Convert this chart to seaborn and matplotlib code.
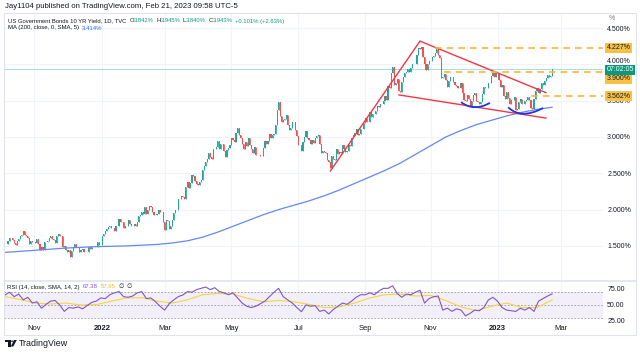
import numpy as np
import pandas as pd
import matplotlib
matplotlib.use("Agg")
import matplotlib.pyplot as plt
import seaborn as sns
from matplotlib.patches import Rectangle, Polygon, Circle, PathPatch
from matplotlib.path import Path
from matplotlib.transforms import blended_transform_factory

# ---------------- data (daily closes, % yield) ----------------
close_2021 = [
    1.53, 1.52, 1.57, 1.61, 1.61, 1.58, 1.54, 1.51, 1.57, 1.59, 1.64, 1.65, 1.70, 1.65, 1.63, 1.61, 1.53, 1.57, 1.55,
    1.56, 1.54, 1.60, 1.52, 1.45, 1.49, 1.44, 1.55, 1.56, 1.57, 1.61, 1.63, 1.59, 1.58, 1.54, 1.63, 1.67, 1.64, 1.64, 1.48, 1.50, 1.44,
    1.41, 1.45, 1.35, 1.43, 1.48, 1.52, 1.49, 1.48, 1.42, 1.44, 1.46, 1.42, 1.41, 1.42, 1.48, 1.46, 1.49, 1.49, 1.48, 1.48, 1.55, 1.51, 1.51,
]
close_2022h1 = [
    1.63, 1.66, 1.70, 1.73, 1.76, 1.78, 1.74, 1.74, 1.70, 1.78, 1.78, 1.87, 1.83, 1.83, 1.75, 1.77, 1.78, 1.86, 1.80, 1.77, 1.78,
    1.80, 1.77, 1.83, 1.91, 1.92, 1.96, 1.94, 2.03, 1.94, 1.99, 2.05, 2.04, 1.97, 1.93, 1.93, 1.94, 1.99, 1.97, 1.97, 1.83,
    1.72, 1.86, 1.84, 1.73, 1.78, 1.86, 1.95, 1.99, 2.00, 2.14, 2.15, 2.19, 2.18, 2.15, 2.31, 2.38, 2.30, 2.37, 2.48, 2.46, 2.40, 2.35, 2.34,
    2.38, 2.41, 2.55, 2.60, 2.66, 2.70, 2.78, 2.72, 2.70, 2.83, 2.83, 2.86, 2.94, 2.84, 2.91, 2.90, 2.81, 2.73, 2.82, 2.85, 2.89,
    2.99, 2.96, 2.93, 3.05, 3.13, 3.03, 2.99, 2.91, 2.84, 2.93, 2.88, 2.99, 2.89, 2.84, 2.78, 2.86, 2.75, 2.75, 2.75, 2.74, 2.74, 2.85,
    2.94, 2.91, 2.94, 3.04, 2.98, 3.03, 3.04, 3.16, 3.37, 3.48, 3.29, 3.20, 3.24, 3.25, 3.30, 3.16, 3.09, 3.13, 3.20, 3.20, 3.09, 3.01,
]
close_2022h2 = [
    2.89, 2.89, 2.81, 2.93, 3.00, 3.08, 2.99, 2.96, 2.91, 2.96, 2.92, 2.99, 3.02, 3.03, 2.91, 2.78, 2.81, 2.80, 2.78, 2.68, 2.65,
    2.57, 2.74, 2.70, 2.68, 2.83, 2.76, 2.79, 2.78, 2.89, 2.84, 2.79, 2.81, 2.89, 2.88, 2.98, 3.03, 3.05, 3.11, 3.03, 3.04, 3.11, 3.11, 3.19,
    3.26, 3.20, 3.20, 3.35, 3.27, 3.31, 3.31, 3.36, 3.42, 3.41, 3.45, 3.45, 3.49, 3.57, 3.51, 3.70, 3.68, 3.88, 3.96, 3.72, 3.75, 3.80,
    3.63, 3.62, 3.76, 3.82, 3.88, 3.89, 3.94, 3.90, 3.95, 4.00, 4.01, 4.00, 4.13, 4.23, 4.21, 4.24, 4.10, 4.01, 3.92, 4.01, 4.05,
    4.04, 4.10, 4.12, 4.16, 4.21, 4.13, 4.09, 3.81, 3.82, 3.87, 3.78, 3.69, 3.77, 3.83, 3.83, 3.76, 3.71, 3.70, 3.68, 3.68, 3.75, 3.61,
    3.51, 3.49, 3.58, 3.53, 3.42, 3.49, 3.58, 3.61, 3.50, 3.48, 3.45, 3.48, 3.59, 3.69, 3.67, 3.67, 3.75, 3.75, 3.84, 3.88, 3.83, 3.88,
]
close_2023 = [
    3.88, 3.79, 3.69, 3.72, 3.56, 3.53, 3.62, 3.54, 3.45, 3.51, 3.51, 3.55, 3.37, 3.39, 3.48, 3.52, 3.46, 3.45, 3.50, 3.51, 3.55, 3.51,
    3.40, 3.39, 3.53, 3.64, 3.67, 3.61, 3.66, 3.74, 3.71, 3.77, 3.81, 3.86, 3.82, 3.842, 3.943,
]
first_open = 1.52

# 200-day SMA, read every 10 bars
ma200 = [1.41, 1.425, 1.44, 1.455, 1.47, 1.48, 1.49, 1.495, 1.50, 1.51, 1.52, 1.54, 1.57, 1.62, 1.69, 1.77,
         1.85, 1.93, 2.00, 2.06, 2.12, 2.19, 2.27, 2.36, 2.45, 2.54, 2.64, 2.76, 2.88, 3.00, 3.09, 3.17,
         3.23, 3.29, 3.34, 3.38, 3.41]
ma_step = 10

# RSI(14), read every 3 bars
rsi = [65.6, 70, 63, 67, 58, 62, 53, 55, 45, 51, 56, 57, 50, 40, 46, 45, 47, 44, 49, 54, 56, 61, 60, 66, 69, 71,
       63, 62, 64, 69, 70.8, 60, 61, 55, 48, 42, 52, 58, 63, 65.6, 70.8, 70, 74, 76, 78, 74, 77, 71, 69, 66, 69,
       61, 53, 48, 46, 48, 52, 56, 63, 70, 76, 63, 58, 53, 46, 39.5, 50, 48, 49, 40, 42, 36, 43, 48, 53, 51, 56,
       62, 66, 66, 69, 66, 72, 76, 76, 80, 68, 62, 67, 66, 70, 73, 53, 60, 63, 64, 42, 45, 40, 44, 42, 33, 37,
       42, 41, 46, 58, 62, 56, 46, 42, 41, 40, 44.8, 42, 46, 40, 56, 60, 64, 67.38]
rsi_step = 3
# SMA(14) of RSI, read every 10 bars
rsi_sma = [63, 58.5, 53, 51.5, 53, 50, 50.5, 56, 61, 61.5, 56, 53, 58, 66, 68, 67, 60, 55, 57, 55, 51, 46,
           47, 53, 61, 66, 67, 64, 65, 57, 47, 41, 48, 53, 46, 46, 57.95]
rsi_sma_step = 10

# annotation drawings (date, yield)
trend_up = [("2022-08-01", 2.53), ("2022-10-21", 4.32)]
trend_top = [("2022-10-21", 4.32), ("2023-02-15", 3.61)]
trend_low = [("2022-10-03", 3.58), ("2023-02-15", 3.26)]
levels = [("2022-11-04", 4.227), ("2022-11-14", 3.900), ("2023-02-01", 3.562)]
arcs = [[("2022-11-29", 3.48), ("2022-12-12", 3.41), ("2022-12-26", 3.47)],
        [("2023-01-11", 3.41), ("2023-01-25", 3.32), ("2023-02-13", 3.40)]]
last_close = 3.943
price_ticks = [1.5, 2.0, 2.5, 3.0, 3.5, 4.0, 4.5]
month_starts = ["2021-11-01", "2022-01-01", "2022-03-01", "2022-05-01", "2022-07-01",
                "2022-09-01", "2022-11-01", "2023-01-01", "2023-03-01"]
month_labels = ["Nov", "2022", "Mar", "May", "Jul", "Sep", "Nov", "2023", "Mar"]

# ---------------- setup ----------------
closes = np.array(close_2021 + close_2022h1 + close_2022h2 + close_2023)
opens = np.concatenate([[first_open], closes[:-1]])
dates = pd.bdate_range(end="2023-02-21", periods=len(closes))
ext = pd.bdate_range(start=dates[0], periods=420)
def bar_of(d):
    return int(np.searchsorted(ext, pd.Timestamp(d)))
bars = np.arange(len(closes))

sns.set_theme(style="white")
plt.rcParams["font.family"] = ["Liberation Sans", "DejaVu Sans"]
TXT = "#131722"
GREEN = "#26a69a"
RED = "#ef5350"
GRID = "#f0f3fa"

W, H = 640, 353
fig = plt.figure(figsize=(W / 100, H / 100), dpi=100)
fig.patch.set_facecolor("white")
def fx(px): return px / W
def fy(py): return 1 - py / H

ax = fig.add_axes([fx(4), fy(280), fx(603) - fx(4), fy(14) - fy(280)])
axr = fig.add_axes([fx(4), fy(322), fx(603) - fx(4), fy(282) - fy(322)], sharex=ax)
for a in (ax, axr):
    a.set_facecolor("white")
    for s in a.spines.values():
        s.set_visible(False)

xmin, xmax = -0.66, 393.4
ax.set_xlim(xmin, xmax)
ax.set_ylim(1.0303, 4.694)
axr.set_ylim(23.4, 85.9)

mticks = [bar_of(d) for d in month_starts]
axr.set_xticks(mticks)
axr.set_xticklabels(month_labels)
for lab in axr.get_xticklabels():
    if lab.get_text() in ("2022", "2023"):
        lab.set_fontweight("bold")
axr.tick_params(axis="x", length=0, pad=1.8, labelsize=5.5, colors=TXT)
ax.tick_params(axis="x", labelbottom=False, length=0)

# price scale: the 4.000% label sits just above the live-price badge
tr = blended_transform_factory(ax.transAxes, ax.transData)
ax.yaxis.tick_right()
ax.set_yticks(price_ticks)
ax.set_yticklabels(["" if v == 4.0 else f"{v:.3f}%" for v in price_ticks])
ax.tick_params(axis="y", length=0, pad=3, labelsize=5, colors=TXT)
ax.annotate("4.000%", xy=(1.0, 4.0), xycoords=tr, xytext=(3, 2.2), textcoords="offset points",
            fontsize=5, color=TXT, va="center", ha="left", annotation_clip=False)
ax.grid(True, color=GRID, lw=0.8)
ax.set_axisbelow(True)

axr.yaxis.tick_right()
axr.set_yticks([25, 50, 75])
axr.set_yticklabels(["25.00", "50.00", "75.00"])
axr.tick_params(axis="y", length=0, pad=3, labelsize=5, colors=TXT)
axr.grid(True, axis="x", color=GRID, lw=0.8)
axr.grid(False, axis="y")
axr.set_axisbelow(True)

# ---------------- candles ----------------
up = closes >= opens
cols = np.where(up, GREEN, RED)
lo = np.minimum(opens, closes)
hi = np.maximum(opens, closes)
ax.vlines(bars, lo, hi, colors=cols, lw=0.6, zorder=3)
ax.bar(bars, hi - lo, bottom=lo, width=0.75, color=cols, linewidth=0, zorder=3)

# last price line
ax.axhline(last_close, color=GREEN, lw=0.6, alpha=0.45, zorder=2)

# moving average
ma_x = np.arange(len(ma200)) * ma_step
sns.lineplot(x=ma_x, y=ma200, ax=ax, color="#6388f2", lw=0.9, zorder=4)

# trend lines
for seg in (trend_up, trend_top, trend_low):
    ax.plot([bar_of(d) for d, _ in seg], [v for _, v in seg], color="#f23645", lw=1.0, zorder=5)

# level lines
for d, v in levels:
    ax.hlines(v, bar_of(d), xmax, colors="#f7b53b", lw=1.2, linestyles=(0, (4, 3)), zorder=5)

# arcs
for arc in arcs:
    p0, p1, p2 = [np.array([bar_of(d), v]) for d, v in arc]
    ctrl = 2 * p1 - (p0 + p2) / 2
    path = Path([p0, ctrl, p2], [Path.MOVETO, Path.CURVE3, Path.CURVE3])
    ax.add_patch(PathPatch(path, fc="none", ec="#2236e0", lw=1.3, zorder=6))

# price badges (3.900% is pushed below the live-price badge, as on the price scale)
badge_shift = {4.227: 0, 3.900: -5.0, 3.562: 0}
for d, v in levels:
    ax.annotate(f"{v:.3f}%", xy=(1.006, v), xycoords=tr, xytext=(0, badge_shift[v]), textcoords="offset points",
                fontsize=5, color=TXT, va="center", ha="left",
                bbox=dict(boxstyle="square,pad=0.22", fc="#f7c143", ec="none"), annotation_clip=False, zorder=10)
ax.annotate("07:02:05", xy=(1.006, last_close), xycoords=tr, xytext=(0, -1.0), textcoords="offset points",
            fontsize=5, color="white", va="center", ha="left",
            bbox=dict(boxstyle="square,pad=0.2", fc="#089981", ec="none"), annotation_clip=False, zorder=11)

# ---------------- RSI ----------------
axr.axhspan(30, 70, color="#7e57c2", alpha=0.09, lw=0, zorder=0)
for lvl in (30, 50, 70):
    axr.axhline(lvl, color="#9598a1", lw=0.6, ls=(0, (2, 2)), zorder=1)
rx = np.arange(len(rsi)) * rsi_step
sns.lineplot(x=rx, y=rsi, ax=axr, color="#7e57c2", lw=0.8, zorder=3)
sx = np.arange(len(rsi_sma)) * rsi_sma_step
sns.lineplot(x=sx, y=rsi_sma, ax=axr, color="#f5d442", lw=0.8, zorder=2)
ax.set_xlabel(""); ax.set_ylabel(""); axr.set_xlabel(""); axr.set_ylabel("")
ax.set_xlim(xmin, xmax)

# ---------------- frame & texts ----------------
fig.add_artist(Rectangle((fx(4), fy(335)), fx(636) - fx(4), fy(13) - fy(335), transform=fig.transFigure,
                         fill=False, ec="#e0e3eb", lw=0.8))
fig.add_artist(plt.Line2D([fx(4), fx(636)], [fy(281), fy(281)], transform=fig.transFigure,
                          color="#e0e3eb", lw=1.2))

renderer = fig.canvas.get_renderer()
def rich(x_px, y_px, parts, size):
    x = x_px
    for s, c, gap in parts:
        t = fig.text(fx(x), fy(y_px), s, color=c, fontsize=size, va="center", ha="left")
        x += t.get_window_extent(renderer).width + gap

fig.text(fx(5), fy(7), "Jay1104 published on TradingView.com, Feb 21, 2023 09:58 UTC-5",
         fontsize=5.6, color=TXT, va="center", ha="left")
TEAL = "#089981"
rich(8, 21, [("US Government Bonds 10 YR Yield, 1D, TVC", TXT, 3),
             ("O", TXT, 0), ("3.842%", TEAL, 2.5), ("H", TXT, 0), ("3.945%", TEAL, 2.5),
             ("L", TXT, 0), ("3.840%", TEAL, 2.5), ("C", TXT, 0), ("3.943%", TEAL, 2.5),
             ("+0.101% (+2.63%)", TEAL, 0)], 4.2)
rich(8, 28, [("MA (200, close, 0, SMA, 5)", TXT, 2.5), ("3.414%", "#2962ff", 0)], 4.3)
rich(7, 287, [("RSI (14, close, SMA, 14, 2)", TXT, 3), ("67.38", "#7e57c2", 3), ("57.95", "#f0c02c", 3),
              ("\u2205", TXT, 3), ("\u2205", TXT, 0)], 4.3)
fig.text(fx(609), fy(19), "%", fontsize=5, color="#787b86", va="center", ha="left")

# TradingView logo
def px_poly(pts, **kw):
    fig.add_artist(Polygon([(fx(a), fy(b)) for a, b in pts], closed=True, transform=fig.transFigure, **kw))
px_poly([(5, 340), (10.5, 340), (10.5, 346.5), (8, 346.5), (8, 342.3), (5, 342.3)], fc=TXT, ec="none")
fig.add_artist(Circle((fx(12.2), fy(341.2)), 1.2 / W, transform=fig.transFigure, fc=TXT, ec="none"))
px_poly([(14, 340), (16.8, 340), (13.3, 346.5), (10.8, 346.5)], fc=TXT, ec="none")
fig.text(fx(18.5), fy(343.3), "TradingView", fontsize=6.4, color=TXT, va="center", ha="left")

fig.savefig("out.png", dpi=100, facecolor="white")
